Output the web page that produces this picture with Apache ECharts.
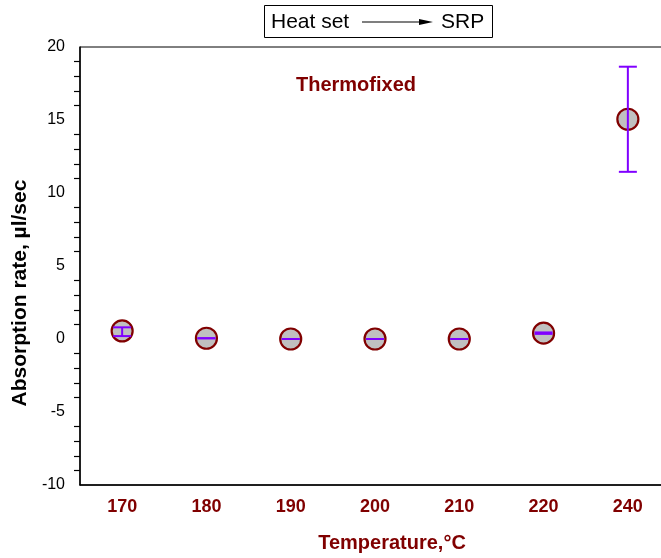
<!DOCTYPE html>
<html><head><meta charset="utf-8">
<script src="https://cdn.jsdelivr.net/npm/echarts@6/dist/echarts.min.js"></script>
<style>html,body{margin:0;padding:0;background:#fff}#c{width:661px;height:558px}</style>
</head><body><div id="c"></div>
<script>
var categories = ['170','180','190','200','210','220','240'];
var meanValues = [0.55, 0.05, 0.0, 0.0, 0.0, 0.4, 15.05];
var lowerValues = [0.2, 0.05, 0.0, 0.0, 0.0, 0.35, 11.45];
var upperValues = [0.8, 0.05, 0.0, 0.0, 0.0, 0.45, 18.65];
var yTicks = [-10, -5, 0, 5, 10, 15, 20];

var font = '"Liberation Sans", Arial, sans-serif';
var dark = '#800000';
var errColor = '#8000ff';

var chart = echarts.init(document.getElementById('c'), null, {renderer: 'canvas'});
var errData = categories.map(function (c, i) { return [i, lowerValues[i], upperValues[i]]; });

chart.setOption({
  animation: false,
  backgroundColor: '#fff',
  grid: {left: 80, right: -9, top: 47, bottom: 73, show: true, borderColor: '#000', borderWidth: 1,
         containLabel: false, outerBoundsMode: 'none'},
  xAxis: {
    type: 'category', data: categories,
    axisLine: {onZero: false, lineStyle: {color: '#000', width: 1.5}},
    axisTick: {alignWithLabel: true, length: 10, lineStyle: {color: '#000', width: 1.5}},
    axisLabel: {color: dark, fontFamily: font, fontWeight: 'bold', fontSize: 18, margin: 13},
    name: 'Temperature,°C', nameLocation: 'middle', nameGap: 48,
    nameTextStyle: {color: dark, fontFamily: font, fontWeight: 'bold', fontSize: 20, padding: [0, 0, 0, 34]}
  },
  yAxis: {
    type: 'value', min: yTicks[0], max: yTicks[yTicks.length - 1], interval: 5,
    axisLine: {show: true, onZero: false, lineStyle: {color: '#000', width: 1.5}},
    axisTick: {length: 10, lineStyle: {color: '#000', width: 1.5}},
    minorTick: {show: true, splitNumber: 5, length: 6, lineStyle: {color: '#000', width: 1.2}},
    splitLine: {show: false},
    axisLabel: {color: '#000', fontFamily: font, fontSize: 16, margin: 15},
    name: 'Absorption rate, µl/sec', nameLocation: 'middle', nameGap: 48,
    nameTextStyle: {color: '#000', fontFamily: font, fontWeight: 'bold', fontSize: 21, padding: [0, 54, 0, 0]}
  },
  title: {
    text: 'Thermofixed', left: 351, top: 70, textAlign: 'center',
    textStyle: {color: dark, fontFamily: font, fontWeight: 'bold', fontSize: 20}
  },
  graphic: [
    {type: 'rect', shape: {x: 264.5, y: 5.5, width: 228, height: 32}, style: {fill: '#fff', stroke: '#000', lineWidth: 1}},
    {type: 'text', x: 271, y: 22, style: {text: 'Heat set', font: '21px ' + font, fill: '#000', textVerticalAlign: 'middle'}},
    {type: 'line', shape: {x1: 362, y1: 22, x2: 424, y2: 22}, style: {stroke: '#000', lineWidth: 1.2}},
    {type: 'polygon', shape: {points: [[419, 19], [433, 22], [419, 25]]}, style: {fill: '#000'}},
    {type: 'text', x: 441, y: 22, style: {text: 'SRP', font: '21px ' + font, fill: '#000', textVerticalAlign: 'middle'}}
  ],
  series: [
    {
      type: 'scatter', data: meanValues, symbol: 'circle', symbolSize: 21, z: 3,
      itemStyle: {color: '#c0c0c0', borderColor: dark, borderWidth: 2.2, opacity: 1}
    },
    {
      type: 'custom', data: errData, z: 4,
      renderItem: function (params, api) {
        var x = api.value(0);
        var lo = api.coord([x, api.value(1)]);
        var hi = api.coord([x, api.value(2)]);
        var w = 9;
        var st = {stroke: errColor, lineWidth: 2};
        return {type: 'group', children: [
          {type: 'line', shape: {x1: lo[0], y1: lo[1], x2: hi[0], y2: hi[1]}, style: st},
          {type: 'line', shape: {x1: lo[0] - w, y1: lo[1], x2: lo[0] + w, y2: lo[1]}, style: st},
          {type: 'line', shape: {x1: hi[0] - w, y1: hi[1], x2: hi[0] + w, y2: hi[1]}, style: st}
        ]};
      }
    }
  ]
});
</script></body></html>
